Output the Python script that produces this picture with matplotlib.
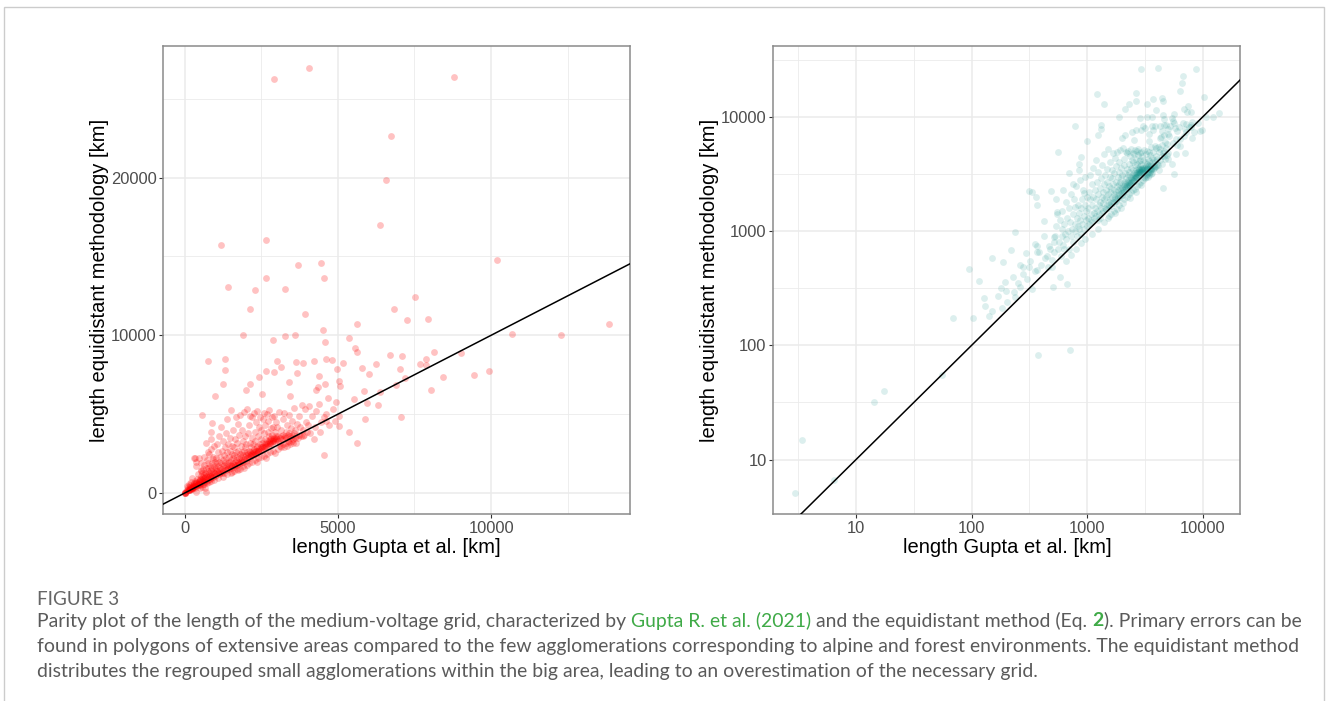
import matplotlib
matplotlib.use("Agg")
import matplotlib.pyplot as plt
import matplotlib.ticker as mticker
from matplotlib.patches import Rectangle
import numpy as np

plt.rcParams["font.family"] = ["Liberation Sans", "DejaVu Sans"]

# ---------------- data (km) : Gupta et al. vs equidistant methodology ----------------
gupta_km = [
    # very small regions (visible in the log panel only)
    2.94, 3.42, 6.4, 14.2, 17.5, 55, 69, 95,
    # 100 - 500
    103, 115, 127, 141, 151, 170, 184, 187, 194, 203, 221, 231, 235, 239, 264, 264, 279, 294,
    312, 315, 333, 333, 356, 361, 365, 369, 369, 371, 372, 424, 435, 461, 468, 488, 493, 500, 507, 513,
    150, 200, 250, 300, 350, 400, 450, 480, 420, 380, 320, 280, 230, 180, 130,
    # 500 - 1000
    518, 548, 550, 564, 600, 633, 670, 705, 780, 782, 851, 851, 890, 929, 988,
    520, 530, 540, 560, 570, 580, 590, 600, 610, 620, 630, 640, 650, 660, 670, 680, 690, 700,
    710, 720, 730, 740, 750, 760, 770, 780, 790, 800, 810, 820, 830, 840, 850, 860, 870, 880,
    890, 900, 910, 920, 930, 940, 950, 960, 970, 980, 990, 1000, 620, 700, 760, 850, 540, 580,
    650, 720, 800, 880, 960,
    # 1000 - 2000
    1010, 1020, 1030, 1040, 1050, 1060, 1070, 1080, 1090, 1100, 1110, 1120, 1130, 1140, 1150,
    1160, 1170, 1180, 1190, 1200, 1206, 1210, 1220, 1230, 1240, 1248, 1250, 1260, 1270, 1280,
    1290, 1300, 1310, 1313, 1323, 1320, 1330, 1340, 1350, 1360, 1370, 1380, 1390, 1400, 1411,
    1410, 1420, 1430, 1440, 1450, 1460, 1470, 1480, 1490, 1500, 1510, 1520, 1530, 1540, 1550,
    1560, 1570, 1580, 1590, 1600, 1610, 1620, 1630, 1640, 1650, 1660, 1670, 1680, 1690, 1700,
    1710, 1720, 1730, 1740, 1750, 1760, 1770, 1780, 1790, 1800, 1810, 1820, 1830, 1840, 1850,
    1860, 1870, 1880, 1890, 1900, 1900, 1910, 1920, 1930, 1940, 1950, 1960, 1970, 1980, 1990,
    1998, 1500, 1600, 1700, 1800, 1900, 1100, 1250, 1400, 1550, 1750, 1950,
    # 2000 - 3000
    2010, 2020, 2030, 2040, 2050, 2060, 2070, 2080, 2090, 2100, 2110, 2120, 2128, 2130, 2139,
    2140, 2150, 2160, 2170, 2180, 2190, 2200, 2210, 2220, 2230, 2240, 2250, 2260, 2270, 2280,
    2290, 2300, 2314, 2310, 2320, 2330, 2340, 2350, 2360, 2370, 2380, 2390, 2400, 2410, 2420,
    2432, 2440, 2450, 2460, 2470, 2480, 2490, 2500, 2510, 2520, 2530, 2540, 2550, 2560, 2570,
    2580, 2590, 2600, 2610, 2620, 2630, 2640, 2650, 2650, 2660, 2660, 2670, 2680, 2690, 2700,
    2710, 2720, 2730, 2740, 2750, 2760, 2770, 2780, 2790, 2800, 2810, 2820, 2830, 2840, 2850,
    2860, 2870, 2880, 2888, 2890, 2900, 2911, 2920, 2930, 2933, 2940, 2950, 2960, 2970, 2980,
    2990, 2100, 2200, 2300, 2400, 2500, 2600, 2700, 2800, 2900, 2050, 2350, 2650, 2950,
    # 3000 - 4000
    3010, 3031, 3020, 3040, 3060, 3080, 3100, 3120, 3140, 3160, 3162, 3180, 3200, 3220, 3240,
    3260, 3279, 3280, 3292, 3300, 3320, 3340, 3360, 3380, 3400, 3420, 3423, 3440, 3455, 3460,
    3480, 3500, 3520, 3540, 3560, 3580, 3600, 3617, 3620, 3628, 3640, 3660, 3683, 3693, 3700,
    3720, 3750, 3780, 3800, 3830, 3856, 3856, 3880, 3900, 3944, 3944, 3960, 3990, 3050, 3150,
    3250, 3350, 3450, 3550, 3650, 3100, 3200, 3300, 3400, 3500,
    # 4000 - 5000
    4065, 4020, 4060, 4100, 4150, 4215, 4225, 4250, 4280, 4300, 4345, 4400, 4400, 4410, 4450,
    4465, 4508, 4540, 4551, 4551, 4583, 4596, 4616, 4616, 4628, 4694, 4720, 4801, 4850, 4900,
    4974, 4950,
    # 5000 - 10000
    5029, 5029, 5052, 5085, 5182, 5365, 5365, 5518, 5551, 5616, 5626, 5639, 5789, 5867, 5887,
    5965, 6017, 6258, 6301, 6376, 6376, 6584, 6714, 6735, 6822, 6897, 7028, 7050, 7105, 7181,
    7256, 7506, 7670, 7875, 7875, 7930, 8039, 8149, 8442, 8788, 9029, 9430, 9929,
    # > 10000
    10189, 10668, 12266, 13840,
]

equidistant_km = [
    5.09, 14.9, 6.6, 31.8, 39.9, 55, 174, 466,
    173, 363, 258, 179, 578, 270, 211, 539, 356, 240, 683, 294, 982, 263, 505, 326, 418, 647,
    482, 2242, 311, 2213, 771, 1977, 734, 1702, 652, 460, 82, 1216, 578, 486, 740, 2229, 558, 487, 321, 807,
    200, 300, 350, 380, 450, 500, 600, 700, 900, 650, 550, 480, 400, 320, 220,
    879, 1479, 1403, 4962, 1052, 703, 342, 91, 1622, 8354, 1052, 3459, 4446, 2163, 6184,
    650, 900, 1100, 700, 800, 1250, 600, 900, 1500, 760, 1150, 950, 1800, 850, 1300, 1000, 700, 1600,
    1200, 900, 2100, 1050, 1400, 800, 1900, 1150, 1000, 2500, 1300, 900, 1700, 1100, 1450, 2800, 1250, 950,
    1600, 1900, 1150, 2300, 1350, 1050, 1700, 3000, 1250, 1500, 2000, 1100, 2300, 3200, 2600, 3900, 1900, 400,
    550, 620, 700, 780, 850,
    1300, 1600, 2200, 1150, 1900, 3100, 1400, 1250, 2600, 1700, 1200, 2000, 3600, 1450, 1300,
    2300, 1600, 4200, 1350, 1900, 15722, 2700, 1500, 1250, 2100, 6924, 3300, 1700, 1400, 2400,
    1800, 1300, 2900, 8506, 7829, 1600, 2000, 3800, 1450, 2200, 1750, 1500, 2600, 4700, 13082,
    1900, 1600, 3100, 2300, 1550, 2000, 1700, 3500, 2700, 1600, 2100, 5250, 1800, 2500, 1700,
    3000, 2200, 1900, 4000, 1750, 2400, 1650, 2900, 2000, 3400, 1800, 2600, 4850, 2100, 1750,
    3200, 2300, 1900, 4400, 2000, 2700, 1850, 3700, 2200, 1900, 2500, 4950, 2050, 3000, 2300,
    1950, 4000, 2600, 2100, 10000, 3300, 2400, 2000, 5150, 2700, 2150, 3600, 2300, 2900, 2050,
    6544, 1300, 1400, 1500, 1550, 1700, 950, 1050, 1200, 1350, 1450, 1600,
    2400, 3100, 2200, 5300, 2600, 2300, 3800, 2500, 2200, 4300, 2700, 2400, 11690, 3200, 6943,
    2600, 4900, 2350, 2900, 2500, 3500, 2450, 4800, 2700, 2550, 3100, 2400, 5050, 2800, 2600,
    3900, 2500, 12848, 3300, 2700, 4500, 2650, 3000, 2550, 5200, 2900, 2700, 3600, 2650, 4200,
    7342, 2800, 3100, 2700, 4800, 2950, 3400, 2800, 4000, 6266, 2900, 3200, 2750, 4700, 3000,
    3800, 2900, 5100, 3100, 3400, 2950, 4300, 7722, 13652, 16038, 3200, 3000, 5000, 3300, 3100,
    3900, 3000, 4600, 3300, 3150, 3600, 5250, 3200, 3400, 3100, 4100, 3300, 3500, 4800, 3200,
    3700, 3300, 4200, 9684, 3400, 3300, 26266, 4900, 3500, 7684, 3300, 3900, 3400, 4500, 3500,
    3600, 1900, 2000, 2100, 2200, 2300, 2350, 2500, 2600, 2700, 1750, 1950, 2200, 2550,
    3400, 8354, 4200, 3300, 3600, 5150, 3500, 3200, 4000, 3600, 8000, 3400, 4700, 3700, 3500,
    5050, 9937, 3600, 12937, 3900, 3500, 4300, 3700, 3300, 4950, 3800, 7070, 3600, 6139, 4100,
    3500, 3700, 4600, 3400, 3800, 5400, 3500, 10025, 4000, 8335, 3600, 4400, 7620, 14430, 3500,
    4900, 3700, 4200, 3600, 5600, 8272, 3608, 4000, 3700, 11373, 5361, 4500, 3900, 2800, 2900,
    2950, 3000, 3100, 3150, 3200, 3000, 3100, 3150, 3250, 3300,
    26960, 4300, 5500, 3800, 4900, 3399, 8354, 4200, 6563, 5200, 6709, 7449, 5677, 3886, 4500,
    14601, 10361, 4800, 13652, 2386, 9557, 6943, 5044, 4538, 8506, 6038, 4300, 8462, 5300, 4600,
    7873, 5800,
    7114, 4241, 4873, 6816, 8253, 9835, 3886, 5949, 9203, 8924, 10696, 3165, 7956, 6456, 4728,
    5722, 7557, 8209, 5614, 16962, 6392, 19854, 8778, 22620, 11646, 6835, 7892, 4835, 8671, 7304,
    10975, 12449, 8165, 8506, 8101, 11057, 6519, 8949, 7386, 26373, 8861, 7494, 7747,
    14791, 10070, 10000, 10741,
]

x_label = "length Gupta et al. [km]"
y_label = "length equidistant methodology [km]"
lin_x_ticks = [0, 5000, 10000]
lin_y_ticks = [0, 10000, 20000]
log_ticks = [10, 100, 1000, 10000]

caption_head = "FIGURE 3"
caption_lines = [
    [("Parity plot of the length of the medium-voltage grid, characterized by", "txt", "normal"),
     ("Gupta R. et al. (2021)", "link", "normal"),
     ("and the equidistant method (Eq.", "txt", "normal"),
     ("2", "link", "bold"),
     ("). Primary errors can be", "txt", "normal", "nospace")],
    [("found in polygons of extensive areas compared to the few agglomerations corresponding to alpine and forest environments. The equidistant method", "txt", "normal")],
    [("distributes the regrouped small agglomerations within the big area, leading to an overestimation of the necessary grid.", "txt", "normal")],
]

# ---------------- figure ----------------
W, H = 1328, 701
fig = plt.figure(figsize=(W / 100, H / 100), dpi=100)
fig.patch.set_facecolor("white")

x = np.array(gupta_km, dtype=float)
y = np.array(equidistant_km, dtype=float)

TICK_COLOR = "#4D4D4D"
GRID_COLOR = "#EBEBEB"
BORDER_COLOR = "#8A8A8A"


def px_axes(left, top, right, bottom):
    return fig.add_axes([left / W, 1 - bottom / H, (right - left) / W, (bottom - top) / H])


def style(ax):
    ax.set_facecolor("white")
    for s in ax.spines.values():
        s.set_color(BORDER_COLOR)
        s.set_linewidth(1.1)
    ax.tick_params(which="major", length=2.75, width=0.8, color="#333333", pad=2.2,
                   labelsize=11.9, labelcolor=TICK_COLOR)
    ax.tick_params(which="minor", length=0)
    ax.grid(which="major", color=GRID_COLOR, linewidth=1.1, zorder=0)
    ax.grid(which="minor", color=GRID_COLOR, linewidth=0.6, zorder=0)
    ax.set_axisbelow(True)
    ax.set_xlabel(x_label, fontsize=14.5, color="black")
    ax.set_ylabel(y_label, fontsize=14.5, color="black")
    ax.xaxis.set_label_coords(0.5, -0.072)
    ax.xaxis.label.set_va("center")
    ax.yaxis.set_label_coords(-0.136, 0.5)
    ax.yaxis.label.set_va("center")
    ax.yaxis.label.set_ha("center")


def expand(lo, hi, f=0.05):
    r = hi - lo
    return lo - f * r, hi + f * r


# ---- left panel: linear ----
ax1 = px_axes(163.4, 46.4, 630.0, 514.3)
ax1.scatter(x, y, s=24, color="red", alpha=0.24, linewidths=0, zorder=2)
ax1.axline((0, 0), (1, 1), color="black", linewidth=1.1, zorder=3)
ax1.set_xlim(*expand(x.min(), x.max()))
ax1.set_ylim(*expand(y.min(), y.max()))
ax1.xaxis.set_major_locator(mticker.FixedLocator(lin_x_ticks))
ax1.yaxis.set_major_locator(mticker.FixedLocator(lin_y_ticks))
ax1.xaxis.set_minor_locator(mticker.MultipleLocator(2500))
ax1.yaxis.set_minor_locator(mticker.MultipleLocator(5000))
ax1.xaxis.set_major_formatter(mticker.FuncFormatter(lambda v, p: f"{v:.0f}"))
ax1.yaxis.set_major_formatter(mticker.FuncFormatter(lambda v, p: f"{v:.0f}"))
style(ax1)

# ---- right panel: log-log ----
ax2 = px_axes(773.4, 46.4, 1240.3, 514.3)
ax2.scatter(x, y, s=24, color="#0E8F88", alpha=0.14, linewidths=0, zorder=2)
ax2.set_xscale("log")
ax2.set_yscale("log")
lx0, lx1 = expand(np.log10(x.min()), np.log10(x.max()))
ly0, ly1 = expand(np.log10(y.min()), np.log10(y.max()))
ax2.set_xlim(10 ** lx0, 10 ** lx1)
ax2.set_ylim(10 ** ly0, 10 ** ly1)
ax2.axline((1, 1), (10, 10), color="black", linewidth=1.1, zorder=3)
half_decades = [10 ** (k + 0.5) for k in range(-1, 6)]
for axis in (ax2.xaxis, ax2.yaxis):
    axis.set_major_locator(mticker.FixedLocator(log_ticks))
    axis.set_minor_locator(mticker.FixedLocator(half_decades))
    axis.set_major_formatter(mticker.FuncFormatter(lambda v, p: f"{v:.0f}"))
    axis.set_minor_formatter(mticker.NullFormatter())
style(ax2)

# ---------------- outer frame ----------------
fig.add_artist(Rectangle((4 / W, -0.02), (1324 - 4) / W, 1 - 7 / H + 0.02,
                         transform=fig.transFigure, fill=False,
                         edgecolor="#CCCCCC", linewidth=1.0))

# ---------------- caption ----------------
CAP_FONT = ["Lato", "DejaVu Sans"]
CAP_SIZE = 13.95
CAP_COLOR = "#5A5A5A"
LINK_COLOR = "#3FAA47"
renderer = fig.canvas.get_renderer()

fig.text(37 / W, 1 - 605 / H, caption_head, family=CAP_FONT, fontsize=13.6,
         color="#666666", va="baseline", ha="left")

probe1 = fig.text(0, 0, "n n", family=CAP_FONT, fontsize=CAP_SIZE)
probe2 = fig.text(0, 0, "nn", family=CAP_FONT, fontsize=CAP_SIZE)
space_w = probe1.get_window_extent(renderer).width - probe2.get_window_extent(renderer).width
probe1.remove()
probe2.remove()

baselines = [626.5, 652.0, 677.0]
for yb, pieces in zip(baselines, caption_lines):
    xp = 37.0
    for i, piece in enumerate(pieces):
        text, kind, weight = piece[0], piece[1], piece[2]
        if i > 0 and not (len(piece) > 3 and piece[3] == "nospace"):
            xp += space_w
        t = fig.text(xp / W, 1 - yb / H, text, family=CAP_FONT, fontsize=CAP_SIZE,
                     color=LINK_COLOR if kind == "link" else CAP_COLOR,
                     fontweight=weight, va="baseline", ha="left")
        xp += t.get_window_extent(renderer).width

fig.savefig("out.png", dpi=100, facecolor="white")
